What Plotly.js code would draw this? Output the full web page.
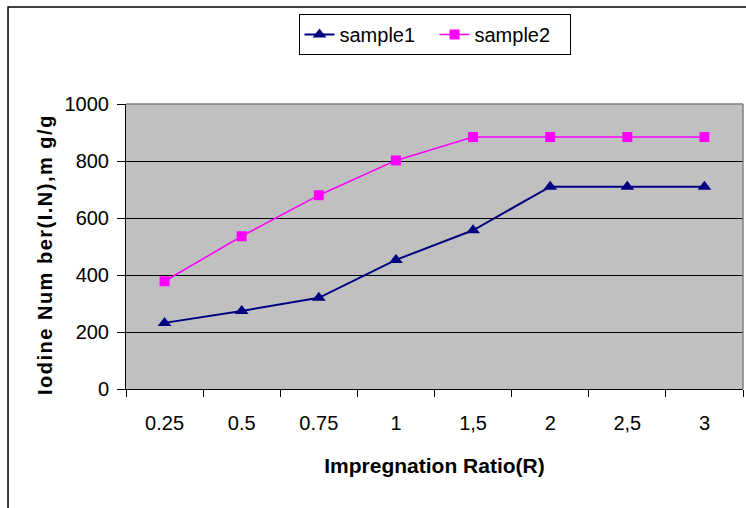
<!DOCTYPE html>
<html>
<head>
<meta charset="utf-8">
<script src="https://cdn.plot.ly/plotly-3.0.1.min.js"></script>
<style>html,body{margin:0;padding:0;background:#fff;} #chart{width:746px;height:508px;}</style>
</head>
<body>
<div id="chart"></div>
<script>
const categories = ["0.25", "0.5", "0.75", "1", "1,5", "2", "2,5", "3"];
const sample1 = [232, 274, 320, 453, 557, 710, 710, 710];
const sample2 = [378, 536, 680, 802, 884, 884, 884, 884];
const yTicks = [0, 200, 400, 600, 800, 1000];
const xTitle = "Impregnation Ratio(R)";
const yTitle = "Iodine Num ber(I.N),m g/g";

const FONT = "Arial, 'Liberation Sans', sans-serif";

const traces = [
  {x: categories, y: sample1, name: "sample1", type: "scatter", mode: "lines+markers",
   line: {color: "#000080", width: 2}, marker: {symbol: "triangle-up", size: 12, color: "#000080"}},
  {x: categories, y: sample2, name: "sample2", type: "scatter", mode: "lines+markers",
   line: {color: "#FF00FF", width: 1.5}, marker: {symbol: "square", size: 10, color: "#FF00FF"}}
];

const layout = {
  width: 746, height: 508,
  margin: {l: 126, r: 3, t: 104, b: 119},
  paper_bgcolor: "#ffffff",
  plot_bgcolor: "#C0C0C0",
  font: {family: FONT, size: 20, color: "#000"},
  showlegend: true,
  legend: {orientation: "h", x: 0.5, xanchor: "center", y: 1.316, yanchor: "top",
           bordercolor: "#000", borderwidth: 1, bgcolor: "#fff",
           font: {size: 20}, entrywidth: 90, entrywidthmode: "pixels", tracegroupgap: 0},
  xaxis: {
    type: "category", tickson: "boundaries", ticks: "outside", ticklen: 7, tickcolor: "#000",
    showline: true, linecolor: "#000", linewidth: 1, showgrid: false, zeroline: false,
    tickfont: {size: 20}, ticklabelstandoff: 16,
    range: [-0.5, 7.5],
    title: {text: "<b>" + xTitle + "</b>", font: {size: 21}, standoff: 25}
  },
  yaxis: {
    range: [0, 1000], tickvals: yTicks, ticks: "outside", ticklen: 8, tickcolor: "#000",
    showline: true, linecolor: "#000", linewidth: 1,
    showgrid: true, gridcolor: "#000", gridwidth: 1, zeroline: false,
    tickfont: {size: 20}, ticklabelstandoff: 4
  },
  annotations: [
    {xref: "paper", yref: "paper", x: -0.1313, y: 0.4737, xanchor: "center", yanchor: "middle",
     textangle: -90, showarrow: false,
     text: "<span style='letter-spacing:1.5px'><b>" + yTitle + "</b></span>",
     font: {size: 20, family: FONT}}
  ],
  shapes: [
    {type: "line", xref: "paper", yref: "paper", x0: 0, x1: 1, y0: 1, y1: 1, line: {color: "#808080", width: 1.5}},
    {type: "line", xref: "paper", yref: "paper", x0: 1, x1: 1, y0: 0, y1: 1, line: {color: "#808080", width: 1.5}},
    {type: "rect", xref: "paper", yref: "paper", x0: -0.1912, x1: 1.2, y0: -0.5, y1: 1.3404, line: {color: "#000", width: 1.5}, fillcolor: "rgba(0,0,0,0)", layer: "below"}
  ]
};

Plotly.newPlot("chart", traces, layout, {displayModeBar: false, staticPlot: true});
</script>
</body>
</html>
